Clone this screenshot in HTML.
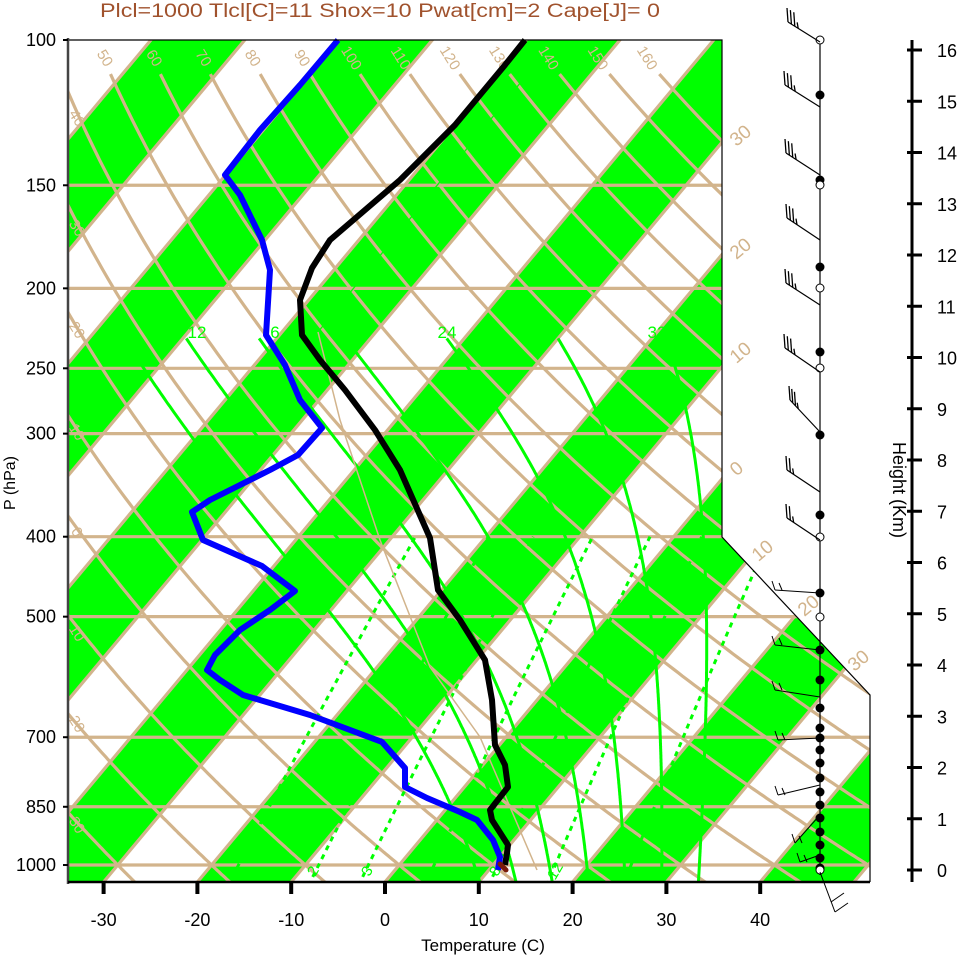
<!DOCTYPE html>
<html><head><meta charset="utf-8">
<style>
html,body{margin:0;padding:0;background:#fff;}
svg{display:block;font-family:"Liberation Sans",sans-serif;}
</style></head>
<body>
<svg id="s" width="961" height="957" viewBox="0 0 961 957" xmlns="http://www.w3.org/2000/svg"></svg>
<script>
(function(){
var NS="http://www.w3.org/2000/svg",S=document.getElementById('s');
var TAN="#d2b48c",GRN="#00ff00";
function el(t,a,p){var e=document.createElementNS(NS,t);for(var k in a)e.setAttribute(k,a[k]);(p||S).appendChild(e);return e;}
function txt(s,a,p){var e=el('text',a,p);e.textContent=s;return e;}
var Y0=40,PX=358.3,K=0.836,XB=385,DX=9.38,YB=882;
function yP(p){return Y0+PX*Math.log(p/100);}
function xT(T,y){return XB+T*DX+(YB-y)*K;}
function pts(a){return a.map(function(q){return q[0].toFixed(1)+','+q[1].toFixed(1);}).join(' ');}
var defs=el('defs',{});
var cp=el('clipPath',{id:'c'},defs);
el('polygon',{points:"68,40 722,40 722,537 870,695 870,882 68,882"},cp);
var g=el('g',{'clip-path':'url(#c)'});
for(var T=-100;T<=60;T+=20){
 var a=[[xT(T,YB),YB],[xT(T+10,YB),YB],[xT(T+10,0),0],[xT(T,0),0]];
 el('polygon',{points:pts(a),fill:GRN},g);
}
for(var T=-120;T<=60;T+=10){
 el('line',{x1:xT(T,YB),y1:YB,x2:xT(T,0),y2:0,stroke:TAN,'stroke-width':3.2},g);
}
[150,200,250,300,400,500,700,850,1000].forEach(function(p){var y=yP(p);el('line',{x1:68,y1:y,x2:870,y2:y,stroke:TAN,'stroke-width':3.2},g);});
for(var th=-30;th<=160;th+=10){
 var a=[];for(var p=1060;p>=109.6;p-=5){var Tk=(th+273.15)*Math.pow(p/1000,0.286);var y=yP(p);a.push([xT(Tk-273.15,y),y]);}
 el('polyline',{points:pts(a),fill:'none',stroke:TAN,'stroke-width':3.2},g);
}
function tdFromW(w,p){var e=w*p/(622+w);var l=Math.log(e/6.112);return 243.5*l/(17.67-l);}
[1,2,3,5,8,12,20].forEach(function(w){
 var a=[];for(var p=1060;p>=400;p-=10){var y=yP(p);a.push([xT(tdFromW(w,p),y),y]);}
 el('polyline',{points:pts(a),fill:'none',stroke:GRN,'stroke-width':3,'stroke-dasharray':'5,5'},g);
});
function es(T){return 6.112*Math.exp(17.67*T/(T+243.5));}
function moist(tw){
 var T=tw+273.15,p;
 function d(T,p){var e=es(T-273.15),rs=0.622*e/(p-e);var Rd=287,L=2.5e6,cp=1005;return (Rd*T+L*rs)/(p*(cp+L*L*rs*0.622/(Rd*T*T)));}
 var T2=T;for(var q=1000;q<1060;q+=2){T2+=d(T2,q)*2;}
 var arr=[];for(p=1000;p>=230;p-=2){arr.push([p,T]);T-=d(T,p)*2;}
 return [[1060,T2]].concat(arr);
}
[8,12,16,20,24,28,32].forEach(function(tw){
 var m=moist(tw);var a=m.map(function(q){var y=yP(q[0]);return [xT(q[1]-273.15,y),y];});
 el('polyline',{points:pts(a),fill:'none',stroke:GRN,'stroke-width':3},g);
});
el('polyline',{points:"318,332 547,50",fill:'none',stroke:GRN,'stroke-width':1.3},g);
el('polyline',{points:"318,332 340,420 380,540 430,667 480,737 537,870",fill:'none',stroke:TAN,'stroke-width':1.5},g);
[[12,197],[16,275],[24,447],[32,657]].forEach(function(q){var s=q[0]==16?'6':String(q[0]);txt(s,{x:q[1],y:338,fill:GRN,'font-size':17,'text-anchor':'middle'});});
var tl=[50,60,70,80,90,100,110,120,130,140,150,160];
tl.forEach(function(v,i){var x=105+i*49.3;txt(String(v),{x:x,y:63,fill:TAN,'font-size':15,'text-anchor':'middle',transform:'rotate(58 '+x+' 58)'});});
[[40,118],[30,228],[20,330],[10,432],[0,532],[-10,633],[-20,724],[-30,825]].forEach(function(q){var x=77,y=q[1];txt(String(Math.abs(q[0])),{x:x,y:y+5,fill:TAN,'font-size':15,'text-anchor':'middle',transform:'rotate(58 '+x+' '+y+')'});});
[[30,740,135],[20,740,248],[10,740,352],[0,736,468],[10,762,550],[20,808,605],[30,858,660]].forEach(function(q){var x=q[1],y=q[2];txt(String(q[0]),{x:x,y:y+7,fill:TAN,'font-size':19,'text-anchor':'middle',transform:'rotate(-40 '+x+' '+y+')'});});
[[2,313,876],[3,367,876],[8,495,876],[12,555,876]].forEach(function(q){txt(String(q[0]),{x:q[1],y:q[2],fill:GRN,'font-size':15,'text-anchor':'middle',transform:'rotate(-60 '+q[1]+' '+(q[2]-5)+')'});});
var Tp=[[525,40],[505,65],[480,95],[455,125],[430,150],[400,180],[365,210],[330,240],[312,268],[300,300],[302,335],[320,360],[345,390],[375,430],[400,470],[430,538],[438,590],[460,620],[485,660],[492,700],[495,745],[505,765],[508,787],[490,810],[492,820],[508,845],[507,853],[505,865]];
el('polyline',{points:pts(Tp),fill:'none',stroke:'#000','stroke-width':6,'stroke-linejoin':'round'});
var Dp=[[338,40],[300,85],[260,130],[225,175],[240,195],[262,240],[270,270],[266,335],[285,365],[300,400],[322,428],[298,455],[270,470],[240,485],[210,500],[192,512],[203,540],[262,566],[295,591],[270,610],[240,630],[215,655],[207,670],[220,680],[243,695],[310,715],[382,742],[405,768],[405,787],[427,798],[460,812],[477,820],[493,840],[500,857],[498,870]];
el('polyline',{points:pts(Dp),fill:'none',stroke:'#0000ff','stroke-width':6,'stroke-linejoin':'round'});
el('line',{x1:500,y1:864,x2:506,y2:870,stroke:'#7a1a0a','stroke-width':5,'stroke-linecap':'round'});
el('polyline',{points:"68,40 722,40 722,537 870,695 870,882",fill:'none',stroke:'#000','stroke-width':1.2});
el('line',{x1:68,y1:38,x2:68,y2:884,stroke:'#444','stroke-width':2.5});
el('line',{x1:68,y1:882,x2:870,y2:882,stroke:'#000','stroke-width':2.5});
[100,150,200,250,300,400,500,700,850,1000].forEach(function(p){var y=yP(p);el('line',{x1:63,y1:y,x2:68,y2:y,stroke:'#000','stroke-width':2});txt(String(p),{x:56,y:y+6,'font-size':18,'text-anchor':'end'});});
for(var T=-30;T<=40;T+=10){var x=XB+T*DX;el('line',{x1:x,y1:883,x2:x,y2:894,stroke:'#000','stroke-width':4});txt(String(T),{x:x,y:926,'font-size':18,'text-anchor':'middle'});}
txt("Temperature (C)",{x:483,y:951,'font-size':17,'text-anchor':'middle'});
txt("P (hPa)",{x:15,y:483,'font-size':16,'text-anchor':'middle',transform:'rotate(-90 15 483)'});
txt("Plcl=1000 Tlcl[C]=11 Shox=10 Pwat[cm]=2 Cape[J]= 0",{x:100,y:17,'font-size':19,fill:'#a0522d',textLength:560,lengthAdjust:'spacingAndGlyphs'});
el('line',{x1:912,y1:40,x2:912,y2:882,stroke:'#000','stroke-width':3});
for(var h=0;h<=16;h++){var y=870-h*51.25;el('line',{x1:907,y1:y,x2:922,y2:y,stroke:'#000','stroke-width':3});txt(String(h),{x:937,y:y+7,'font-size':18});}
txt("Height (Km)",{x:893,y:490,'font-size':18,'text-anchor':'middle',transform:'rotate(90 893 490)'});
el('line',{x1:820,y1:40,x2:820,y2:875,stroke:'#000','stroke-width':1.2});
[95,180,267,352,435,515,593,650,680,708,728,738,750,763,778,792,805,818,832,845,858,868].forEach(function(y){el('circle',{cx:820,cy:y,r:4.5,fill:'#000'});});
[40,185,288,368,537,617,870].forEach(function(y){el('circle',{cx:820,cy:y,r:4,fill:'#fff',stroke:'#000','stroke-width':1});});
var ub=[[42,788,22,3],[107,785,85,3],[175,786,153,3],[240,787,218,3],[305,786,283,3],[372,785,348,3],[432,790,400,3],[492,787,470,2],[540,787,518,2]];
ub.forEach(function(b){
 el('line',{x1:820,y1:b[0],x2:b[1],y2:b[2],stroke:'#000','stroke-width':1.2});
 var dx=820-b[1],dy=b[0]-b[2],L=Math.sqrt(dx*dx+dy*dy);
 for(var i=0;i<=b[3];i++){var t=i*4/L;var x=b[1]+dx*t,y=b[2]+dy*t;var len=(i==b[3])?6:14;el('line',{x1:x,y1:y,x2:x-1,y2:y-len,stroke:'#000','stroke-width':1.3});}
});
var lb=[[593,775,590],[650,775,645],[697,775,690],[738,778,740],[785,778,795],[815,795,843],[855,800,862]];
lb.forEach(function(b){
 el('line',{x1:820,y1:b[0],x2:b[1],y2:b[2],stroke:'#000','stroke-width':1});
 el('line',{x1:b[1],y1:b[2],x2:b[1]-3,y2:b[2]-9,stroke:'#000','stroke-width':1});
 el('line',{x1:b[1]+7,y1:b[2],x2:b[1]+4,y2:b[2]-7,stroke:'#000','stroke-width':1});
});
el('line',{x1:820,y1:872,x2:835,y2:912,stroke:'#000','stroke-width':1});
el('line',{x1:835,y1:912,x2:848,y2:903,stroke:'#000','stroke-width':1});
el('line',{x1:831,y1:902,x2:844,y2:893,stroke:'#000','stroke-width':1});
})();
</script>
</body></html>
